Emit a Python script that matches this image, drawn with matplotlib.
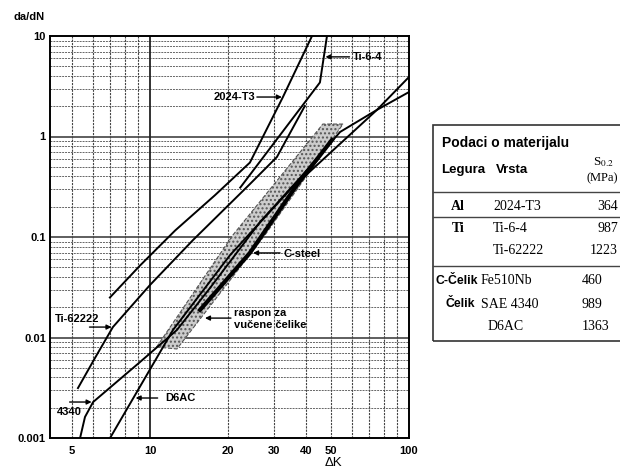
import numpy as np
import matplotlib.pyplot as plt
from matplotlib.patches import Polygon, Rectangle
from matplotlib.lines import Line2D

plt.rcParams['font.family'] = ['Liberation Sans', 'DejaVu Sans']
plt.rcParams['mathtext.fontset'] = 'stix'

# crack growth curves, dK [MPa m^0.5] vs da/dN [um/cycle]
al2024_dk = [7.0, 9.15, 12.5, 17.8, 24.3, 32.6, 42.6]
al2024_da = [0.025, 0.052, 0.116, 0.26, 0.55, 2.47, 10.5]

ti64_dk = [22.3, 45.3, 48.5]
ti64_da = [0.31, 3.45, 11.0]

ti62222_dk = [5.27, 6.13, 7.19, 10.0, 14.66, 24.3, 30.9, 39.6]
ti62222_da = [0.00314, 0.00625, 0.0127, 0.0333, 0.0933, 0.336, 0.625, 2.01]

s4340_dk = [5.37, 5.61, 6.03, 9.15, 12.71, 17.05, 26.6, 37.9, 54.2, 75.2, 100]
s4340_da = [0.001, 0.00162, 0.00228, 0.0057, 0.0119, 0.0311, 0.141, 0.386, 1.11, 1.84, 2.77]

d6ac_dk = [7.01, 12.27, 20.4, 34.7, 75.2, 100]
d6ac_da = [0.001, 0.0119, 0.0663, 0.294, 1.84, 3.91]

csteel_dk = [15.6, 24.3, 36.9, 50.4]
csteel_da = [0.0188, 0.0694, 0.329, 0.923]

# scatter band of drawn steels
band_dk = [10.6, 20.9, 46.5, 55.6, 27.8, 12.7]
band_da = [0.00804, 0.1047, 1.33, 1.33, 0.1047, 0.00769]

# table
tab_legura = ['Al', 'Ti', '', 'C-Čelik', 'Čelik', '']
tab_vrsta = ['2024-T3', 'Ti-6-4', 'Ti-62222', 'Fe510Nb', 'SAE 4340', 'D6AC']
tab_s02 = ['364', '987', '1223', '460', '989', '1363']

W, H = 620, 472
fig = plt.figure(figsize=(W / 100, H / 100), dpi=100)


def fx(x):
    return x / W


def fy(y):
    return 1 - y / H


ax = fig.add_axes([fx(50), fy(438), 359 / W, 402 / H])
ax.set_xscale('log')
ax.set_yscale('log')
ax.set_xlim(4.11, 100)
ax.set_ylim(0.001, 10)

# grid
for d in [0.001, 0.01, 0.1, 1]:
    for k in range(2, 10):
        ax.axhline(d * k, color='#666666', lw=0.7, ls=(0, (2, 1)), zorder=1)
for d in [0.01, 0.1, 1]:
    ax.axhline(d, color='#333333', lw=1.1, zorder=1)
for v in [5, 6, 7, 8, 9, 20, 30, 40, 50, 60, 70, 80, 90]:
    ax.axvline(v, color='#444444', lw=0.8, ls=(0, (2, 1)), zorder=1)
ax.axvline(10, color='#222222', lw=1.3, zorder=1)

ax.fill(band_dk, band_da, facecolor='#cccccc', edgecolor='#555555', lw=0.8,
        ls='--', hatch='....', zorder=2)

lw = 1.4
ax.plot(al2024_dk, al2024_da, color='black', lw=lw, zorder=3)
ax.plot(ti64_dk, ti64_da, color='black', lw=lw, zorder=3)
ax.plot(ti62222_dk, ti62222_da, color='black', lw=lw, zorder=3)
ax.plot(s4340_dk, s4340_da, color='black', lw=lw, zorder=3)
ax.plot(d6ac_dk, d6ac_da, color='black', lw=lw, zorder=3)
ax.plot(csteel_dk, csteel_da, color='black', lw=3.0, zorder=3)

ax.set_xticks([5, 10, 20, 30, 40, 50, 100])
ax.set_xticklabels(['5', '10', '20', '30', '40', '50', '100'])
ax.set_xticks([], minor=True)
ax.set_yticks([0.001, 0.01, 0.1, 1, 10])
ax.set_yticklabels(['0.001', '0.01', '0.1', '1', '10'])
ax.set_yticks([], minor=True)
ax.tick_params(length=0, labelsize=8, pad=3)
ax.tick_params(axis='x', pad=6)
for t in ax.get_xticklabels() + ax.get_yticklabels():
    t.set_fontweight('bold')
for s in ax.spines.values():
    s.set_linewidth(1.4)

fig.text(fx(13), fy(17), 'da/dN', fontsize=8, fontweight='bold', va='center')
fig.text(fx(333), fy(463), 'ΔK', fontsize=9.5, ha='center', va='center')

# labels with arrows
arw = dict(arrowstyle='-|>', color='black', lw=1.0, mutation_scale=7,
           shrinkA=0, shrinkB=0)


def label(txt, tip, dx, tx, ty, ha):
    ax.annotate('', xy=tip, xytext=(dx, 0), textcoords='offset pixels',
                arrowprops=arw, zorder=5)
    fig.text(fx(tx), fy(ty), txt, fontsize=8, fontweight='bold',
             ha=ha, va='center', linespacing=1.3)


label('2024-T3', (32.3, 2.47), -25, 255, 97, 'right')
label('Ti-6-4', (47.6, 6.2), 24, 353, 57, 'left')
label('C-steel', (25.0, 0.0694), 27, 283, 254, 'left')
label('raspon za\nvučene čelike', (16.3, 0.0156), 26, 234, 319, 'left')
label('Ti-62222', (7.1, 0.0127), -22, 55, 319, 'left')
label('4340', (5.95, 0.00228), -22, 57, 412, 'left')
label('D6AC', (8.8, 0.0025), 22, 165, 398, 'left')

# table
fig.patches.append(Rectangle((fx(433), fy(341)), (700 - 433) / W, (341 - 125) / H,
                             transform=fig.transFigure, fill=False,
                             edgecolor='#333333', lw=1.2))
for y in [192, 217, 266]:
    fig.add_artist(Line2D([fx(433), fx(620)], [fy(y), fy(y)], color='#444444', lw=1.0))

fig.text(fx(442), fy(143), 'Podaci o materijalu', fontsize=10, fontweight='bold', va='center')
fig.text(fx(441), fy(170), 'Legura', fontsize=9.5, fontweight='bold', va='center')
fig.text(fx(496), fy(170), 'Vrsta', fontsize=9.5, fontweight='bold', va='center')
fig.text(fx(593), fy(162), r'S$_{0.2}$', fontsize=9.5, family='Liberation Serif', va='center')
fig.text(fx(618), fy(178), '(MPa)', fontsize=9, family='Liberation Serif',
         ha='right', va='center')

row_y = [206, 229, 250, 281, 304, 326]
legura_x = [458, 458, 458, 436, 445, 445]
vrsta_x = [493, 493, 493, 481, 481, 488]
for i in range(len(tab_vrsta)):
    y = row_y[i]
    if i < 3:
        fig.text(fx(legura_x[i]), fy(y), tab_legura[i], fontsize=10, fontweight='bold',
                 family='Liberation Serif', ha='center', va='center')
        fig.text(fx(vrsta_x[i]), fy(y), tab_vrsta[i], fontsize=10,
                 family='Liberation Serif', va='center')
        fig.text(fx(618), fy(y), tab_s02[i], fontsize=10,
                 family='Liberation Serif', ha='right', va='center')
    else:
        fig.text(fx(legura_x[i]), fy(y), tab_legura[i], fontsize=8.8, fontweight='bold',
                 ha='left', va='center')
        fig.text(fx(vrsta_x[i]), fy(y), tab_vrsta[i], fontsize=10,
                 family='Liberation Serif', va='center')
        fig.text(fx(582), fy(y), tab_s02[i], fontsize=10,
                 family='Liberation Serif', va='center')

fig.savefig('out.png', dpi=100)
